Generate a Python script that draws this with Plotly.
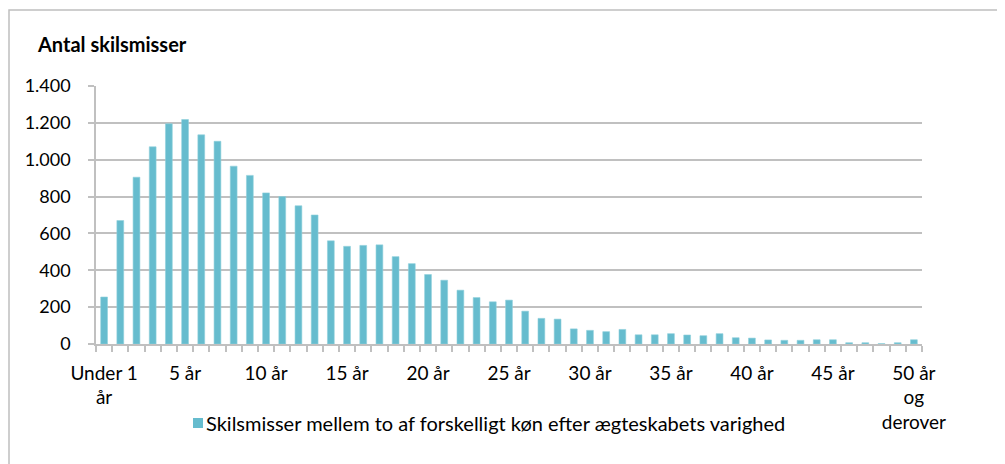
import plotly.graph_objects as go

categories = ["Under 1 år"] + [f"{i} år" for i in range(1, 50)] + ["50 år og derover"]

divorces = [255, 670, 905, 1070, 1195, 1218, 1135, 1100, 965, 915,
            820, 800, 750, 700, 560, 530, 535, 538, 474, 436,
            377, 346, 292, 252, 229, 238, 178, 139, 135, 82,
            74, 67, 79, 50, 50, 56, 49, 45, 56, 34,
            32, 22, 20, 20, 23, 23, 7, 7, 2, 7, 23]

label_categories = ["Under 1 år", "5 år", "10 år", "15 år", "20 år", "25 år",
                    "30 år", "35 år", "40 år", "45 år", "50 år og derover"]
tick_labels = ["Under 1<br>år", "5 år", "10 år", "15 år", "20 år", "25 år",
               "30 år", "35 år", "40 år", "45 år", "50 år<br>og<br>derover"]

y_ticks = [0, 200, 400, 600, 800, 1000, 1200, 1400]

series_name = "Skilsmisser mellem to af forskelligt køn efter ægteskabets varighed"
y_title = "Antal skilsmisser"

x_pos = list(range(len(categories)))
tick_pos = [categories.index(c) for c in label_categories]

FONT = "Lato, 'Open Sans', sans-serif"
GRID = "#c0c0c0"
BAR = "#66BCCE"

# page body has an 8px offset; figure coords = page coords - 8
OFF = 8
W, H = 997, 456
L, T, PW, PH = 96 - OFF, 86 - OFF, 826, 258


def px(xp):
    return (xp - OFF - L) / PW


def py(yp):
    return (T + PH - (yp - OFF)) / PH


fig = go.Figure()
fig.add_trace(go.Bar(
    x=x_pos, y=divorces, name=series_name,
    marker=dict(color=BAR, line=dict(color="#8fd0dc", width=0.6)),
    customdata=categories,
    hovertemplate="%{customdata}: %{y}<extra></extra>",
    showlegend=False,
))

fig.update_layout(
    width=W, height=H,
    margin=dict(l=L, r=W - L - PW, t=T, b=H - T - PH, autoexpand=False),
    paper_bgcolor="white", plot_bgcolor="white",
    separators=",.",
    font=dict(family=FONT, size=18, color="#000000"),
    bargap=0.58,
    showlegend=False,
    xaxis=dict(
        range=[-0.5, len(categories) - 0.5],
        tickmode="array", tickvals=tick_pos, ticktext=tick_labels,
        ticks="", showgrid=False, zeroline=False,
        showline=True, linecolor=GRID, linewidth=1.5,
        tickfont=dict(family=FONT, size=19, color="#000000"),
        ticklabelstandoff=11,
        minor=dict(ticks="outside", tick0=-0.5, dtick=1, ticklen=6,
                   tickcolor=GRID, tickwidth=1.5, showgrid=False),
        fixedrange=True,
    ),
    yaxis=dict(
        range=[0, 1400], tickmode="array", tickvals=y_ticks,
        tickformat=",d",
        showgrid=True, gridcolor=GRID, gridwidth=1.5,
        zeroline=False, showline=True, linecolor=GRID, linewidth=1.5,
        ticks="outside", ticklen=6, tickcolor=GRID, tickwidth=1.5,
        tickfont=dict(family=FONT, size=18, color="#000000"),
        ticklabelstandoff=14,
        fixedrange=True,
    ),
    annotations=[
        dict(text=f"<b>{y_title}</b>", xref="paper", yref="paper",
             x=px(35), y=py(44), xanchor="left", yanchor="middle",
             showarrow=False, font=dict(family=FONT, size=20, color="#000000")),
        dict(text=series_name, xref="paper", yref="paper",
             x=px(204), y=py(423), xanchor="left", yanchor="middle",
             showarrow=False, font=dict(family=FONT, size=20, color="#000000")),
    ],
    shapes=[
        dict(type="rect", xref="paper", yref="paper",
             x0=px(9), x1=px(1100), y0=py(600), y1=py(10),
             line=dict(color="#bfbfbf", width=1.5), fillcolor="rgba(0,0,0,0)", layer="below"),
        dict(type="rect", xref="paper", yref="paper",
             x0=px(193), x1=px(203), y0=py(428), y1=py(418),
             line=dict(width=0), fillcolor=BAR),
    ],
)

fig.write_html("out.html")
